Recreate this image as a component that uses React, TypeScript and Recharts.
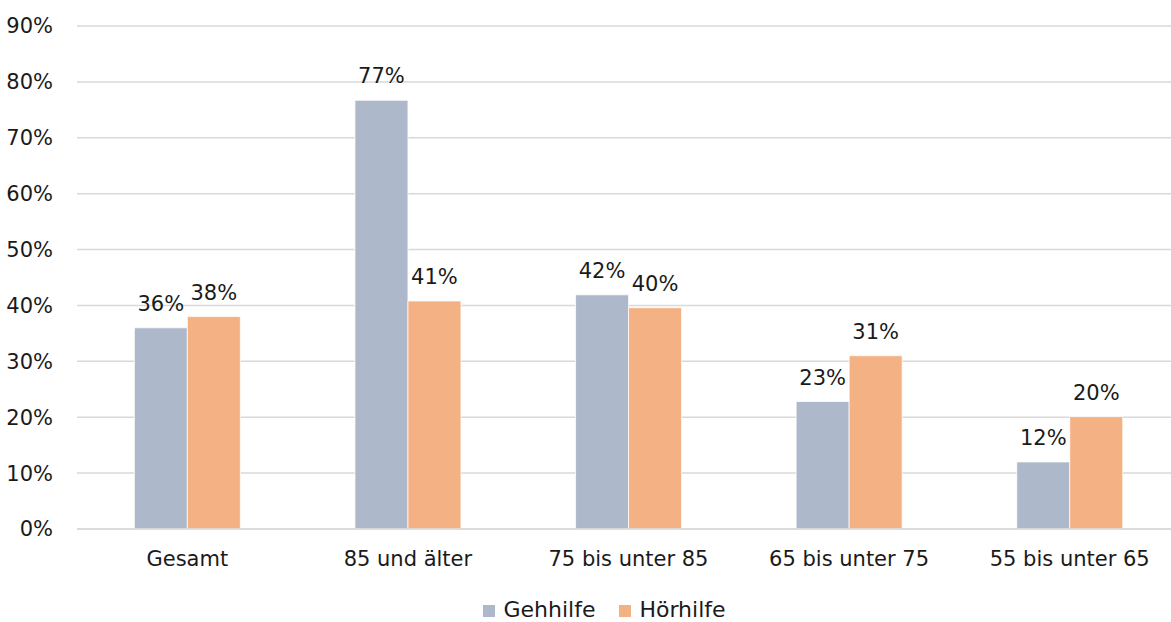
import React from 'react';
import { BarChart, Bar, XAxis, YAxis, CartesianGrid, Legend, LabelList } from 'recharts';

const categories = ['Gesamt', '85 und älter', '75 bis unter 85', '65 bis unter 75', '55 bis unter 65'];
const gehhilfe = [36.0, 76.7, 41.9, 22.8, 12.0];
const hoerhilfe = [38.0, 40.8, 39.6, 31.0, 20.1];
const yTicks = [0, 10, 20, 30, 40, 50, 60, 70, 80, 90];

const data = categories.map((c, i) => ({ name: c, Gehhilfe: gehhilfe[i], 'Hörhilfe': hoerhilfe[i] }));

const FONT = '"DejaVu Sans", sans-serif';
const FS = 21;
const TEXT = '#1a1a1a';

const pct = (v: any) => `${Math.round(Number(v))}%`;

export default function App() {
  return (
    <div style={{ position: 'fixed', left: 0, top: 0, width: 1171, height: 622, overflow: 'hidden', background: '#fff', fontFamily: FONT }}>
      <BarChart
        width={1180}
        height={622}
        data={data}
        margin={{ top: 26, right: 0, bottom: 53, left: 0 }}
        barCategoryGap="26%"
        barGap={0}
      >
        <CartesianGrid vertical={false} stroke="#D9D9D9" strokeWidth={1.5} />
        <XAxis
          dataKey="name"
          height={40}
          axisLine={{ stroke: '#D9D9D9', strokeWidth: 1.5 }}
          tickLine={false}
          tickSize={0}
          tickMargin={22}
          interval={0}
          tick={{ fill: TEXT, fontSize: FS, fontFamily: FONT }}
        />
        <YAxis
          width={77}
          domain={[0, 90]}
          ticks={yTicks}
          interval={0}
          axisLine={false}
          tickLine={false}
          tickSize={0}
          tickMargin={24}
          tickFormatter={(v: number) => `${v}%`}
          tick={{ fill: TEXT, fontSize: FS, fontFamily: FONT }}
        />
        <Legend
          layout="horizontal"
          align="center"
          verticalAlign="middle"
          iconType="square"
          iconSize={12}
          wrapperStyle={{ top: 600, left: 31, width: 1171, fontFamily: FONT, fontSize: FS, lineHeight: '20px' }}
          formatter={(value: string) => (
            <span style={{ color: TEXT, fontSize: 22, fontFamily: FONT, marginLeft: 4, marginRight: 14, lineHeight: '20px' }}>{value}</span>
          )}
        />
        <Bar dataKey="Gehhilfe" fill="#ADB9CA" stroke="#ffffff" strokeWidth={0.75} isAnimationActive={false}>
          <LabelList dataKey="Gehhilfe" position="top" offset={17} formatter={pct} fill={TEXT} fontSize={FS} fontFamily={FONT} />
        </Bar>
        <Bar dataKey="Hörhilfe" fill="#F4B183" stroke="#ffffff" strokeWidth={0.75} isAnimationActive={false}>
          <LabelList dataKey="Hörhilfe" position="top" offset={17} formatter={pct} fill={TEXT} fontSize={FS} fontFamily={FONT} />
        </Bar>
      </BarChart>
    </div>
  );
}
